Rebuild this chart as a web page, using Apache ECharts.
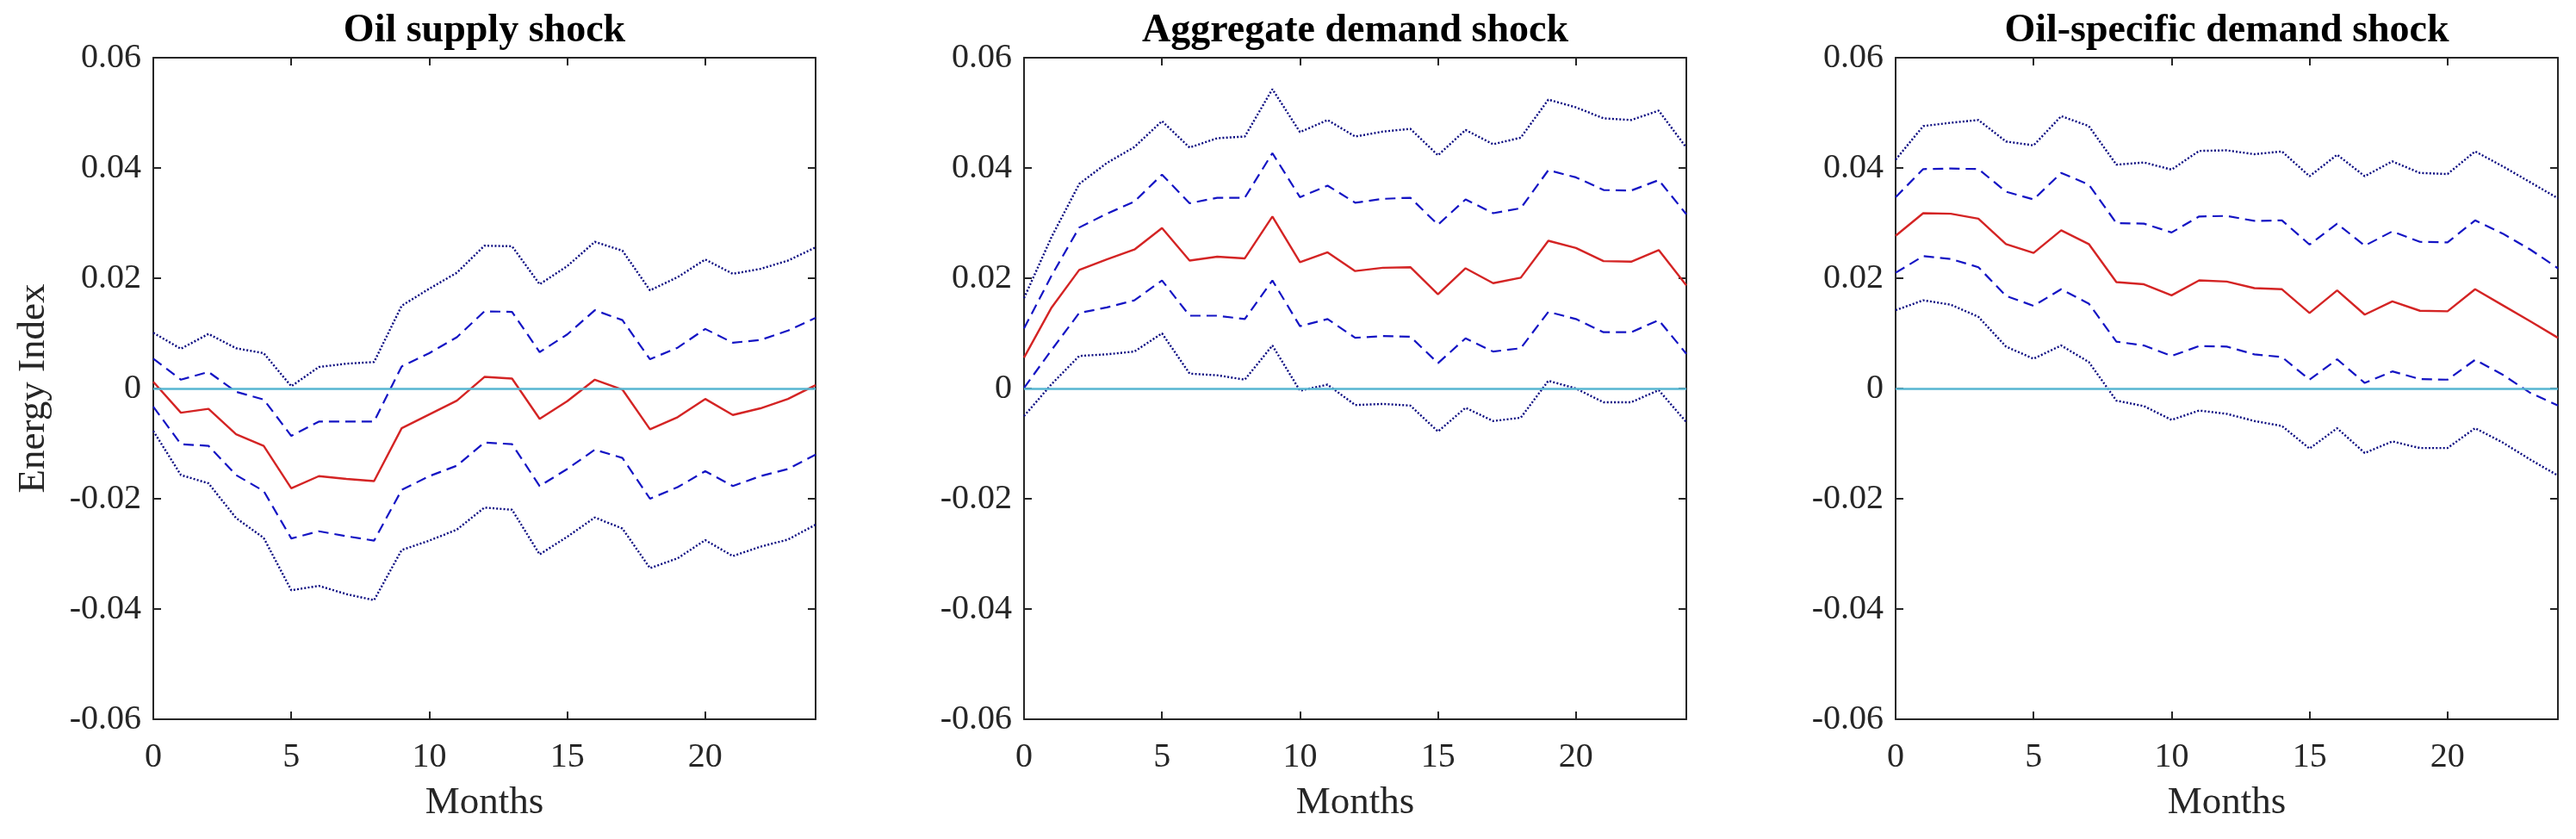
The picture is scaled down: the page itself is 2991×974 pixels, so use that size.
<!DOCTYPE html>
<html>
<head>
<meta charset="utf-8">
<script src="https://cdn.jsdelivr.net/npm/echarts@6/dist/echarts.min.js"></script>
<style>
html,body{margin:0;padding:0;background:#fff;}
#chart{width:2991px;height:974px;}
</style>
</head>
<body>
<div id="chart"></div>
<script>
// ---- data ----
const months = [0,1,2,3,4,5,6,7,8,9,10,11,12,13,14,15,16,17,18,19,20,21,22,23,24];
const xTicks = [0,5,10,15,20];
const yTicks = [-0.06,-0.04,-0.02,0,0.02,0.04,0.06];
const titles = ['Oil supply shock','Aggregate demand shock','Oil-specific demand shock'];

const supplyMedian = [0.0012,-0.0044,-0.0037,-0.0083,-0.0104,-0.0181,-0.0159,-0.0164,-0.0168,-0.0072,-0.0047,-0.0022,0.0021,0.0018,-0.0055,-0.0023,0.0016,-0.0002,-0.0074,-0.0052,-0.0019,-0.0048,-0.0036,-0.0019,0.0006];
const supplyHi68 = [0.0054,0.0016,0.0030,-0.0006,-0.0020,-0.0086,-0.0060,-0.0060,-0.0060,0.0040,0.0064,0.0093,0.0140,0.0139,0.0066,0.0098,0.0142,0.0124,0.0053,0.0074,0.0108,0.0083,0.0088,0.0105,0.0128];
const supplyHi90 = [0.0101,0.0072,0.0099,0.0073,0.0064,0.0004,0.0039,0.0045,0.0048,0.0150,0.0181,0.0210,0.0259,0.0258,0.0189,0.0222,0.0266,0.0250,0.0178,0.0202,0.0234,0.0208,0.0217,0.0232,0.0256];
const supplyLo68 = [-0.0033,-0.0101,-0.0104,-0.0157,-0.0186,-0.0272,-0.0259,-0.0268,-0.0276,-0.0184,-0.0159,-0.0140,-0.0098,-0.0101,-0.0177,-0.0146,-0.0111,-0.0126,-0.0200,-0.0179,-0.0150,-0.0177,-0.0159,-0.0146,-0.0120];
const supplyLo90 = [-0.0077,-0.0157,-0.0172,-0.0235,-0.0271,-0.0366,-0.0358,-0.0373,-0.0384,-0.0293,-0.0276,-0.0256,-0.0216,-0.0220,-0.0301,-0.0269,-0.0234,-0.0254,-0.0326,-0.0308,-0.0275,-0.0304,-0.0287,-0.0274,-0.0247];

const aggMedian = [0.0056,0.0147,0.0215,0.0234,0.0252,0.0291,0.0232,0.0239,0.0236,0.0312,0.0229,0.0247,0.0213,0.0219,0.0220,0.0171,0.0218,0.0191,0.0201,0.0268,0.0255,0.0231,0.0230,0.0251,0.0187];
const aggHi68 = [0.0109,0.0205,0.0292,0.0317,0.0339,0.0388,0.0336,0.0346,0.0346,0.0427,0.0347,0.0368,0.0337,0.0344,0.0346,0.0297,0.0343,0.0318,0.0327,0.0396,0.0383,0.0360,0.0359,0.0378,0.0316];
const aggHi90 = [0.0164,0.0275,0.0371,0.0409,0.0438,0.0485,0.0437,0.0454,0.0457,0.0543,0.0465,0.0487,0.0457,0.0466,0.0471,0.0423,0.0469,0.0443,0.0455,0.0524,0.0510,0.0490,0.0487,0.0504,0.0437];
const aggLo68 = [0.0001,0.0070,0.0137,0.0147,0.0160,0.0196,0.0132,0.0132,0.0126,0.0196,0.0113,0.0126,0.0092,0.0095,0.0094,0.0046,0.0091,0.0067,0.0073,0.0139,0.0126,0.0102,0.0102,0.0124,0.0063];
const aggLo90 = [-0.0050,0.0008,0.0059,0.0062,0.0067,0.0100,0.0027,0.0024,0.0016,0.0078,-0.0004,0.0007,-0.0030,-0.0028,-0.0031,-0.0078,-0.0035,-0.0059,-0.0053,0.0014,0.0000,-0.0025,-0.0025,-0.0003,-0.0061];

const oilMedian = [0.0277,0.0318,0.0317,0.0308,0.0262,0.0246,0.0287,0.0262,0.0193,0.0189,0.0169,0.0196,0.0194,0.0182,0.0180,0.0137,0.0178,0.0134,0.0158,0.0141,0.0140,0.0180,0.0151,0.0122,0.0092];
const oilHi68 = [0.0347,0.0398,0.0399,0.0398,0.0357,0.0343,0.0391,0.0370,0.0300,0.0299,0.0283,0.0312,0.0313,0.0304,0.0305,0.0261,0.0299,0.0259,0.0285,0.0266,0.0265,0.0305,0.0281,0.0252,0.0218];
const oilHi90 = [0.0415,0.0476,0.0482,0.0487,0.0448,0.0441,0.0494,0.0476,0.0406,0.0410,0.0397,0.0431,0.0432,0.0425,0.0430,0.0385,0.0424,0.0385,0.0412,0.0391,0.0389,0.0430,0.0403,0.0374,0.0345];
const oilLo68 = [0.0210,0.0240,0.0235,0.0220,0.0168,0.0150,0.0180,0.0154,0.0085,0.0078,0.0059,0.0077,0.0076,0.0062,0.0057,0.0016,0.0053,0.0010,0.0031,0.0017,0.0016,0.0052,0.0025,-0.0008,-0.0031];
const oilLo90 = [0.0142,0.0160,0.0152,0.0130,0.0076,0.0054,0.0078,0.0048,-0.0022,-0.0032,-0.0057,-0.0040,-0.0046,-0.0059,-0.0068,-0.0109,-0.0072,-0.0117,-0.0096,-0.0108,-0.0108,-0.0072,-0.0098,-0.0129,-0.0158];

const panels = [
  {median: supplyMedian, hi68: supplyHi68, hi90: supplyHi90, lo68: supplyLo68, lo90: supplyLo90},
  {median: aggMedian, hi68: aggHi68, hi90: aggHi90, lo68: aggLo68, lo90: aggLo90},
  {median: oilMedian, hi68: oilHi68, hi90: oilHi90, lo68: oilLo68, lo90: oilLo90}
];

// ---- layout / style ----
const FONT = "'Liberation Serif','Times New Roman',serif";
const AX = '#262626';
const gridLefts = [178, 1189, 2201];
const GW = 769, GH = 768, GT = 67;

const chart = echarts.init(document.getElementById('chart'), null, {renderer:'canvas'});
const pairs = arr => months.map((m,i) => [m, arr[i]]);

const grids = [], xAxes = [], yAxes = [], series = [], titleOpts = [];
gridLefts.forEach((left, p) => {
  grids.push({left: left, top: GT, width: GW, height: GH, containLabel: false});
  titleOpts.push({
    text: titles[p], left: left + GW/2, top: 13, padding: 0, textAlign: 'center',
    textStyle: {fontFamily: FONT, fontWeight: 'bold', fontSize: 46, color: '#000'}
  });
  const baseX = {
    type: 'value', gridIndex: p, min: 0, max: 24, interval: 5,
    axisLine: {show: true, onZero: false, lineStyle: {color: AX, width: 2}},
    axisTick: {show: true, inside: true, length: 9, lineStyle: {color: AX, width: 2}},
    splitLine: {show: false}
  };
  xAxes.push(Object.assign({}, baseX, {
    position: 'bottom',
    name: 'Months', nameLocation: 'middle', nameGap: 75,
    nameTextStyle: {fontFamily: FONT, fontSize: 45, color: AX},
    axisLabel: {show: true, margin: 24, fontFamily: FONT, fontSize: 40, color: AX,
      formatter: v => (xTicks.indexOf(v) >= 0 ? String(v) : '')}
  }));
  xAxes.push(Object.assign({}, baseX, {position: 'top', axisLabel: {show: false}}));
  const baseY = {
    type: 'value', gridIndex: p, min: -0.06, max: 0.06, interval: 0.02,
    axisLine: {show: true, onZero: false, lineStyle: {color: AX, width: 2}},
    axisTick: {show: true, inside: true, length: 9, lineStyle: {color: AX, width: 2}},
    splitLine: {show: false}
  };
  yAxes.push(Object.assign({}, baseY, {
    position: 'left',
    name: p === 0 ? 'Energy Index' : '', nameLocation: 'middle', nameGap: 116,
    nameTextStyle: {fontFamily: FONT, fontSize: 45, color: AX},
    axisLabel: {show: true, margin: 14, fontFamily: FONT, fontSize: 40, color: AX,
      formatter: v => {
        const t = yTicks.find(k => Math.abs(k - v) < 1e-9);
        if (t === undefined) return '';
        return t === 0 ? '0' : t.toFixed(2);
      }}
  }));
  yAxes.push(Object.assign({}, baseY, {position: 'right', axisLabel: {show: false}}));

  const xi = p*2, yi = p*2;
  const d = panels[p];
  const common = {type: 'line', xAxisIndex: xi, yAxisIndex: yi, showSymbol: false, symbol: 'none', silent: true, animation: false};
  series.push(Object.assign({}, common, {
    data: [], z: 3,
    markLine: {silent: true, symbol: 'none', label: {show: false}, animation: false,
      lineStyle: {color: '#56b6d2', width: 2.5, type: 'solid'},
      data: [{yAxis: 0}]}
  }));
  series.push(Object.assign({}, common, {data: pairs(d.hi90), z: 2, lineStyle: {color: '#0a0a80', width: 2.4, type: [2, 2.2]}}));
  series.push(Object.assign({}, common, {data: pairs(d.lo90), z: 2, lineStyle: {color: '#0a0a80', width: 2.4, type: [2, 2.2]}}));
  series.push(Object.assign({}, common, {data: pairs(d.hi68), z: 2, lineStyle: {color: '#1414c4', width: 2.2, type: [12, 7]}}));
  series.push(Object.assign({}, common, {data: pairs(d.lo68), z: 2, lineStyle: {color: '#1414c4', width: 2.2, type: [12, 7]}}));
  series.push(Object.assign({}, common, {data: pairs(d.median), z: 4, lineStyle: {color: '#d42424', width: 2.4, type: 'solid'}}));
});

chart.setOption({
  backgroundColor: '#ffffff',
  animation: false,
  title: titleOpts,
  grid: grids,
  xAxis: xAxes,
  yAxis: yAxes,
  series: series
});
</script>
</body>
</html>
